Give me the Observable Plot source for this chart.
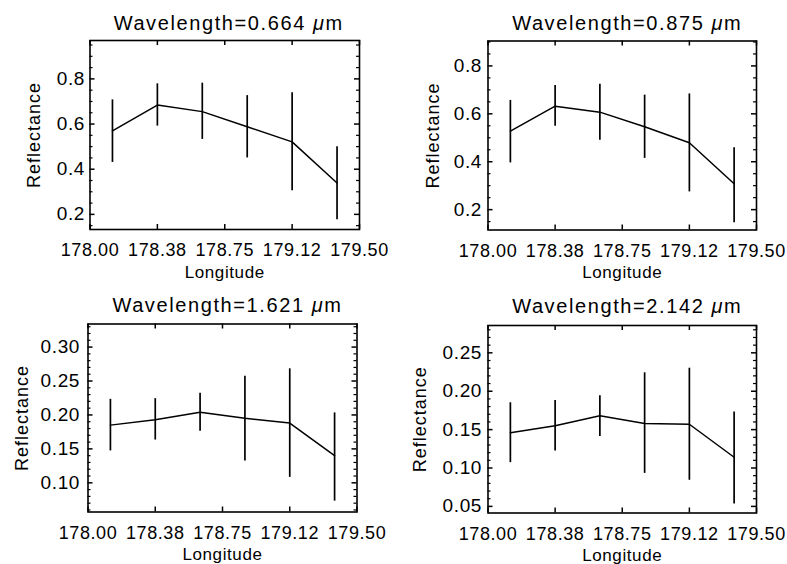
<!DOCTYPE html>
<html><head><meta charset="utf-8">
<script src="https://cdn.jsdelivr.net/npm/d3@7"></script>
<script src="https://cdn.jsdelivr.net/npm/@observablehq/plot@0.6"></script>
<style>
html,body{margin:0;padding:0;background:#fff;}
#wrap{position:relative;width:787px;height:564px;overflow:hidden;background:#fff;}
#wrap svg{position:absolute;overflow:visible;}
#wrap svg text{letter-spacing:0.6px;}
#wrap .ptitle text{letter-spacing:1.6px;}
#wrap .ylab text{letter-spacing:1px;}
</style></head><body><div id="wrap"></div>
<script>
// ---- data ----
const longitude = [178.125, 178.375, 178.625, 178.875, 179.125, 179.375];
const xTicks = [178.0, 178.375, 178.75, 179.125, 179.5];
const xTickLabels = ["178.00", "178.38", "178.75", "179.12", "179.50"];
const titles = ["Wavelength=0.664 μm", "Wavelength=0.875 μm", "Wavelength=1.621 μm", "Wavelength=2.142 μm"];

const refl664 = [0.570, 0.684, 0.655, 0.588, 0.521, 0.339];
const low664  = [0.430, 0.591, 0.532, 0.450, 0.305, 0.176];
const high664 = [0.707, 0.778, 0.781, 0.726, 0.739, 0.499];

const refl875 = [0.528, 0.632, 0.607, 0.546, 0.479, 0.308];
const low875  = [0.395, 0.548, 0.490, 0.414, 0.274, 0.145];
const high875 = [0.656, 0.718, 0.723, 0.678, 0.683, 0.458];

const refl1621 = [0.185, 0.193, 0.204, 0.195, 0.188, 0.140];
const low1621  = [0.147, 0.163, 0.176, 0.132, 0.108, 0.073];
const high1621 = [0.223, 0.224, 0.232, 0.257, 0.268, 0.203];

const refl2142 = [0.146, 0.155, 0.168, 0.158, 0.157, 0.114];
const low2142  = [0.107, 0.122, 0.141, 0.093, 0.084, 0.053];
const high2142 = [0.185, 0.188, 0.194, 0.224, 0.230, 0.173];

const yTicksTop = [0.2, 0.4, 0.6, 0.8];
const yTicksBottomLeft = [0.10, 0.15, 0.20, 0.25, 0.30];
const yTicksBottomRight = [0.05, 0.10, 0.15, 0.20, 0.25];

// ---- layout ----
const panels = [
  {title: titles[0], y: refl664, lo: low664, hi: high664, domain: [0.133, 0.970], ticks: yTicksTop, minor: 0.05, fmt: 1,
   left: 0, top: 0, w: 393, ml: 89.5, mr: 34, mt: 40, mb: 53, gap: 5, ylab: -56, tdx: 4, tdy: -11},
  {title: titles[1], y: refl875, lo: low875, hi: high875, domain: [0.115, 0.904], ticks: yTicksTop, minor: 0.05, fmt: 1,
   left: 393, top: 0, w: 394, ml: 94.5, mr: 31, mt: 40.5, mb: 52.5, gap: 6, ylab: -55, tdx: 5, tdy: -11},
  {title: titles[2], y: refl1621, lo: low1621, hi: high1621, domain: [0.057, 0.334], ticks: yTicksBottomLeft, minor: 0.01, fmt: 2,
   left: 0, top: 282, w: 393, ml: 87.5, mr: 36.5, mt: 41.5, mb: 52.5, gap: 8, ylab: -66, tdx: 5, tdy: -12},
  {title: titles[3], y: refl2142, lo: low2142, hi: high2142, domain: [0.0414, 0.2856], ticks: yTicksBottomRight, minor: 0.01, fmt: 2,
   left: 393, top: 282, w: 394, ml: 94.5, mr: 31, mt: 43, mb: 51.5, gap: 6, ylab: -68, tdx: 5, tdy: -13}
];

const idx = d3.range(longitude.length);
const wrap = document.getElementById("wrap");
const majorLen = 5, minorLen = 3;

for (const p of panels) {
  const minorTicks = d3.range(Math.ceil(p.domain[0] / p.minor - 1e-9), Math.floor(p.domain[1] / p.minor + 1e-9) + 1)
    .map(k => +(k * p.minor).toFixed(4))
    .filter(v => !p.ticks.some(t => Math.abs(t - v) < 1e-6));
  const fmt = d3.format(`.${p.fmt}f`);
  const fw = p.w - p.ml - p.mr, fh = 282 - p.mt - p.mb;
  const tk = {stroke: "black", strokeWidth: 1.5};
  const tm = {stroke: "black", strokeWidth: 1.2};
  const chart = Plot.plot({
    width: p.w, height: 282,
    marginLeft: p.ml, marginRight: p.mr, marginTop: p.mt, marginBottom: p.mb,
    x: {domain: [178, 179.5]},
    y: {domain: p.domain},
    style: {fontFamily: "'Liberation Sans', Arial, sans-serif", fontSize: "18px", color: "black", background: "white", overflow: "visible"},
    marks: [
      // inward ticks on all four sides
      Plot.tickX(xTicks, {x: d => d, insetTop: fh - majorLen, ...tk}),
      Plot.tickX(xTicks, {x: d => d, insetBottom: fh - majorLen, ...tk}),
      Plot.tickY(p.ticks, {y: d => d, insetRight: fw - majorLen, ...tk}),
      Plot.tickY(p.ticks, {y: d => d, insetLeft: fw - majorLen, ...tk}),
      Plot.tickY(minorTicks, {y: d => d, insetRight: fw - minorLen, ...tm}),
      Plot.tickY(minorTicks, {y: d => d, insetLeft: fw - minorLen, ...tm}),
      // tick labels
      Plot.axisX({anchor: "bottom", ticks: xTicks, tickSize: 0, tickPadding: 14, stroke: "none",
                  tickFormat: d => xTickLabels[xTicks.indexOf(d)], label: null, fontSize: 18}),
      Plot.axisY({anchor: "left", ticks: p.ticks, tickSize: 0, tickPadding: p.gap, stroke: "none",
                  tickFormat: fmt, label: null, fontSize: 19}),
      Plot.frame({stroke: "black", strokeWidth: 1.6}),
      Plot.ruleX(idx, {x: i => longitude[i], y1: i => p.lo[i], y2: i => p.hi[i], stroke: "black", strokeWidth: 1.7}),
      Plot.line(idx, {x: i => longitude[i], y: i => p.y[i], stroke: "black", strokeWidth: 1.5}),
      Plot.text([p.title], {frameAnchor: "top", dy: p.tdy, dx: p.tdx, lineAnchor: "bottom", fontSize: 20, className: "ptitle"}),
      Plot.text(["Longitude"], {frameAnchor: "bottom", dy: 48, lineAnchor: "bottom", fontSize: 17}),
      Plot.text(["Reflectance"], {frameAnchor: "left", dx: p.ylab, rotate: -90, textAnchor: "middle", fontSize: 18, className: "ylab"})
    ]
  });
  chart.style.left = p.left + "px";
  chart.style.top = p.top + "px";
  wrap.appendChild(chart);
  // italic mu in the title
  const t = chart.querySelector(".ptitle text");
  if (t) {
    const s = t.textContent;
    const k = s.indexOf("μ");
    if (k >= 0) {
      t.textContent = "";
      const ns = "http://www.w3.org/2000/svg";
      const a = document.createElementNS(ns, "tspan"); a.textContent = s.slice(0, k);
      const b = document.createElementNS(ns, "tspan"); b.textContent = "μ"; b.setAttribute("font-style", "italic");
      const c = document.createElementNS(ns, "tspan"); c.textContent = s.slice(k + 1);
      t.append(a, b, c);
    }
  }
}
</script></body></html>
